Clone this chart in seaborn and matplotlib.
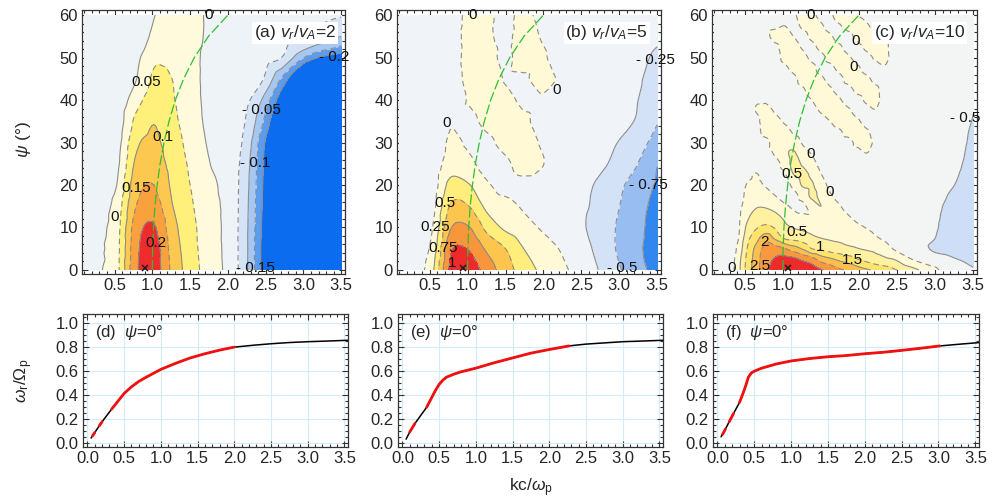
import numpy as np
import matplotlib
matplotlib.use("Agg")
import matplotlib.pyplot as plt
import matplotlib.tri as mtri
from matplotlib.ticker import MultipleLocator, FormatStrFormatter
import seaborn as sns

sns.set_theme(style="ticks")
plt.rcParams['font.family'] = ['Liberation Sans', 'DejaVu Sans']
plt.rcParams['mathtext.fontset'] = 'custom'
plt.rcParams['mathtext.rm'] = 'Liberation Sans'
plt.rcParams['mathtext.it'] = 'Liberation Sans:italic'
plt.rcParams['lines.dashed_pattern'] = [5, 3.5]

# ---- growth rate maps, gamma/Omega_p on (kc/omega_p, psi) grids ----
psi_grid = [0, 5, 10, 15, 20, 25, 30, 35, 40, 45, 50, 55, 60]
kc_grid = [0.1, 0.29, 0.53, 0.77, 1.02, 1.26, 1.5, 1.74, 1.98, 2.22, 2.47, 2.71, 2.95, 3.19, 3.5]

gamma_a = [
    [-0.02, -0.005, 0.035, 0.185, 0.225, 0.14, 0.075, 0.03, -0.01, -0.08, -0.22, -0.35, -0.45, -0.5, -0.5],
    [-0.02, -0.008, 0.033, 0.18, 0.222, 0.132, 0.07, 0.027, -0.012, -0.08, -0.22, -0.35, -0.45, -0.5, -0.5],
    [-0.02, -0.012, 0.03, 0.17, 0.205, 0.12, 0.066, 0.024, -0.012, -0.08, -0.215, -0.35, -0.45, -0.5, -0.5],
    [-0.025, -0.018, 0.02, 0.145, 0.175, 0.103, 0.058, 0.02, -0.013, -0.078, -0.21, -0.35, -0.45, -0.5, -0.5],
    [-0.03, -0.025, 0.0, 0.125, 0.15, 0.092, 0.05, 0.013, -0.015, -0.075, -0.205, -0.35, -0.45, -0.5, -0.5],
    [-0.035, -0.03, -0.012, 0.105, 0.128, 0.082, 0.043, 0.003, -0.02, -0.07, -0.2, -0.34, -0.45, -0.5, -0.5],
    [-0.035, -0.035, -0.02, 0.085, 0.11, 0.072, 0.035, -0.004, -0.022, -0.06, -0.19, -0.33, -0.45, -0.5, -0.5],
    [-0.035, -0.035, -0.03, 0.058, 0.098, 0.062, 0.028, -0.01, -0.025, -0.048, -0.15, -0.3, -0.44, -0.5, -0.5],
    [-0.035, -0.035, -0.035, 0.025, 0.075, 0.055, 0.022, -0.012, -0.025, -0.035, -0.11, -0.24, -0.4, -0.5, -0.5],
    [-0.035, -0.035, -0.035, -0.005, 0.058, 0.05, 0.018, -0.012, -0.02, -0.028, -0.05, -0.155, -0.3, -0.45, -0.5],
    [-0.035, -0.035, -0.035, -0.015, 0.04, 0.038, 0.015, -0.01, -0.018, -0.022, -0.03, -0.05, -0.13, -0.2, -0.24],
    [-0.035, -0.035, -0.035, -0.028, 0.008, 0.025, 0.015, -0.005, -0.015, -0.018, -0.022, -0.03, -0.042, -0.06, -0.1],
    [-0.035, -0.035, -0.035, -0.03, -0.002, 0.02, 0.012, -0.004, -0.012, -0.015, -0.018, -0.022, -0.028, -0.035, -0.045],
]

gamma_b = [
    [-0.03, -0.12, 0.18, 1.05, 1.15, 0.88, 0.62, 0.38, 0.2, 0.06, -0.08, -0.24, -0.44, -0.62, -0.85],
    [-0.05, -0.15, 0.07, 0.95, 0.98, 0.7, 0.5, 0.25, 0.1, -0.01, -0.14, -0.3, -0.5, -0.66, -0.9],
    [-0.06, -0.15, -0.02, 0.72, 0.76, 0.42, 0.2, 0.08, -0.02, -0.1, -0.2, -0.34, -0.5, -0.66, -0.85],
    [-0.07, -0.15, -0.1, 0.52, 0.5, 0.18, 0.06, -0.02, -0.08, -0.14, -0.2, -0.3, -0.46, -0.64, -0.82],
    [-0.08, -0.15, -0.15, 0.32, 0.26, 0.03, -0.06, -0.05, -0.08, -0.14, -0.2, -0.27, -0.42, -0.58, -0.78],
    [-0.08, -0.15, -0.17, 0.12, 0.06, -0.1, -0.04, 0.08, 0.01, -0.1, -0.16, -0.2, -0.3, -0.46, -0.74],
    [-0.08, -0.14, -0.16, 0.03, -0.03, -0.04, 0.06, 0.09, -0.02, -0.1, -0.14, -0.17, -0.24, -0.36, -0.6],
    [-0.08, -0.12, -0.12, -0.01, -0.04, 0.05, 0.1, 0.03, -0.06, -0.1, -0.12, -0.15, -0.2, -0.25, -0.48],
    [-0.08, -0.1, -0.1, -0.06, 0.01, 0.08, 0.05, -0.03, -0.02, -0.02, -0.1, -0.12, -0.16, -0.23, -0.35],
    [-0.08, -0.1, -0.1, -0.08, 0.04, 0.08, -0.01, -0.02, 0.06, -0.02, -0.08, -0.1, -0.14, -0.21, -0.32],
    [-0.08, -0.1, -0.1, -0.08, 0.05, 0.05, -0.03, 0.06, 0.02, -0.06, -0.08, -0.1, -0.13, -0.19, -0.28],
    [-0.08, -0.1, -0.1, -0.07, 0.04, 0.02, -0.03, 0.06, -0.01, -0.06, -0.08, -0.1, -0.12, -0.16, -0.22],
    [-0.08, -0.1, -0.1, -0.07, 0.03, 0.02, -0.03, 0.03, -0.04, -0.06, -0.08, -0.1, -0.11, -0.14, -0.18],
]

# panel (c) on a finer grid; each inner list is one kc column, psi = 0, 2.5, ..., 60
psi_grid_c = [0, 2.5, 5, 7.5, 10, 12.5, 15, 17.5, 20, 22.5, 25, 27.5, 30,
              32.5, 35, 37.5, 40, 42.5, 45, 47.5, 50, 52.5, 55, 57.5, 60]
kc_grid_c = [0.1, 0.29, 0.41, 0.53, 0.65, 0.77, 0.9, 1.02, 1.14, 1.26, 1.38, 1.5,
             1.62, 1.74, 1.86, 1.98, 2.1, 2.22, 2.34, 2.47, 2.71, 2.95, 3.19, 3.5]
gamma_c_cols = [
    [-0.15, -0.15, -0.15, -0.15, -0.15, -0.15, -0.15, -0.15, -0.15, -0.15, -0.15, -0.15, -0.15,
     -0.15, -0.15, -0.15, -0.15, -0.15, -0.15, -0.15, -0.15, -0.15, -0.15, -0.15, -0.15],
    [-0.3, -0.3, -0.3, -0.28, -0.25, -0.2, -0.2, -0.2, -0.2, -0.2, -0.2, -0.2, -0.2,
     -0.2, -0.2, -0.2, -0.2, -0.2, -0.2, -0.2, -0.2, -0.2, -0.2, -0.2, -0.2],
    [0.3, 0.25, 0.1, -0.05, -0.1, -0.12, -0.15, -0.2, -0.2, -0.2, -0.2, -0.2, -0.2,
     -0.2, -0.2, -0.2, -0.2, -0.2, -0.2, -0.2, -0.2, -0.2, -0.2, -0.2, -0.2],
    [1.2, 1.12, 1.0, 0.82, 0.6, 0.4, 0.22, 0.1, 0.02, -0.1, -0.2, -0.2, -0.2,
     -0.2, -0.2, -0.2, -0.2, -0.2, -0.2, -0.2, -0.2, -0.2, -0.2, -0.2, -0.2],
    [1.8, 1.75, 1.65, 1.3, 0.95, 0.7, 0.45, 0.25, 0.1, 0.02, -0.15, -0.2, -0.2,
     -0.2, -0.2, 0.02, -0.05, -0.2, -0.2, -0.2, -0.2, -0.2, -0.2, -0.2, -0.2],
    [2.35, 2.3, 2.15, 1.8, 1.1, 0.8, 0.45, 0.2, -0.03, -0.15, -0.2, -0.2, -0.19,
     0.2, 0.35, 0.25, -0.09, -0.2, -0.2, -0.2, -0.2, -0.2, -0.2, -0.2, -0.2],
    [2.85, 2.55, 2.2, 1.4, 0.95, 0.65, 0.3, 0.0, -0.15, -0.2, -0.2, 0.07, 0.29,
     0.35, 0.22, -0.07, -0.2, -0.2, -0.2, -0.2, -0.2, -0.14, 0.25, -0.14, -0.2],
    [3.1, 2.7, 2.05, 0.95, 0.65, 0.4, 0.08, -0.15, -0.15, -0.06, 0.2, 0.4, 0.33,
     0.2, -0.06, -0.2, -0.2, -0.2, -0.2, -0.12, 0.13, 0.29, 0.25, 0.0, -0.2],
    [3.15, 2.65, 1.75, 0.85, 0.48, 0.15, -0.05, -0.12, 0.1, 0.5, 0.62, 0.55, 0.3,
     -0.05, -0.2, -0.2, -0.2, -0.2, -0.15, 0.17, 0.3, 0.24, 0.0, -0.2, -0.1],
    [3.0, 2.4, 1.45, 0.75, 0.42, 0.08, -0.08, 0.15, 0.55, 0.62, 0.45, 0.2, -0.05,
     -0.2, -0.2, -0.2, -0.2, -0.07, 0.21, 0.3, 0.21, -0.07, -0.2, 0.11, 0.29],
    [2.85, 2.2, 1.0, 0.6, 0.35, 0.06, 0.2, 0.6, 0.55, 0.4, 0.2, -0.03, -0.2,
     -0.2, -0.2, -0.2, 0.0, 0.24, 0.3, 0.17, -0.15, -0.2, 0.15, 0.3, 0.15],
    [2.55, 1.8, 0.9, 0.5, 0.32, 0.42, 0.5, 0.35, 0.2, 0.02, -0.15, -0.2, -0.2,
     -0.2, -0.2, 0.06, 0.27, 0.29, 0.12, -0.2, -0.2, 0.2, 0.29, 0.08, -0.2],
    [2.35, 1.6, 0.78, 0.45, 0.3, 0.25, 0.18, 0.05, -0.1, -0.2, -0.2, -0.2, -0.2,
     -0.2, 0.0, 0.26, 0.28, 0.07, -0.2, -0.2, 0.2, 0.29, 0.08, -0.2, -0.1],
    [2.1, 1.4, 0.7, 0.42, 0.28, 0.16, 0.03, -0.1, -0.2, -0.2, -0.2, -0.2, -0.2,
     -0.08, 0.23, 0.29, 0.07, -0.2, -0.2, 0.2, 0.29, 0.08, -0.2, -0.05, 0.25],
    [1.9, 1.25, 0.6, 0.38, 0.2, 0.03, -0.12, -0.2, -0.2, -0.2, -0.2, -0.2, -0.2,
     0.2, 0.29, 0.08, -0.2, -0.2, 0.2, 0.29, 0.08, -0.2, -0.2, 0.24, 0.24],
    [1.75, 1.02, 0.52, 0.3, 0.08, -0.1, -0.2, -0.2, -0.2, -0.2, -0.2, -0.2, 0.16,
     0.3, 0.08, -0.2, -0.2, 0.2, 0.29, 0.08, -0.2, -0.2, 0.21, 0.28, 0.0],
    [1.57, 0.85, 0.45, 0.2, -0.02, -0.15, -0.2, -0.2, -0.2, -0.2, -0.2, 0.0, 0.2,
     0.07, -0.2, -0.2, 0.12, 0.25, 0.12, -0.2, -0.2, 0.16, 0.3, 0.08, -0.2],
    [1.4, 0.7, 0.38, 0.05, -0.12, -0.2, -0.2, -0.2, -0.2, -0.2, -0.2, -0.2, -0.12,
     -0.2, -0.2, -0.02, 0.14, 0.1, -0.15, -0.2, 0.08, 0.3, 0.16, -0.2, -0.2],
    [1.25, 0.6, 0.25, -0.08, -0.2, -0.22, -0.25, -0.25, -0.25, -0.25, -0.25, -0.25, -0.25,
     -0.25, -0.25, -0.22, -0.2, -0.2, -0.2, -0.05, 0.13, 0.11, -0.12, -0.2, -0.2],
    [1.05, 0.48, -0.05, -0.22, -0.28, -0.3, -0.3, -0.3, -0.3, -0.3, -0.3, -0.3, -0.3,
     -0.28, -0.27, -0.26, -0.25, -0.24, -0.23, -0.22, -0.22, -0.21, -0.2, -0.2, -0.2],
    [0.65, -0.02, -0.25, -0.33, -0.38, -0.38, -0.38, -0.37, -0.36, -0.35, -0.34, -0.34, -0.33,
     -0.32, -0.32, -0.31, -0.3, -0.29, -0.28, -0.27, -0.26, -0.25, -0.24, -0.22, -0.2],
    [0.2, -0.3, -0.52, -0.47, -0.45, -0.44, -0.43, -0.42, -0.41, -0.4, -0.4, -0.39, -0.38,
     -0.37, -0.36, -0.35, -0.33, -0.32, -0.3, -0.29, -0.28, -0.27, -0.25, -0.23, -0.22],
    [-0.3, -0.45, -0.58, -0.6, -0.58, -0.56, -0.54, -0.51, -0.48, -0.46, -0.44, -0.42, -0.4,
     -0.39, -0.38, -0.36, -0.35, -0.33, -0.32, -0.31, -0.3, -0.29, -0.28, -0.27, -0.25],
    [-0.48, -0.55, -0.6, -0.62, -0.62, -0.61, -0.6, -0.59, -0.58, -0.57, -0.56, -0.55, -0.54,
     -0.53, -0.51, -0.495, -0.47, -0.44, -0.41, -0.38, -0.36, -0.34, -0.32, -0.3, -0.28],
]

levels_a = [-0.2, -0.15, -0.1, -0.05, 0, 0.05, 0.1, 0.15, 0.2]
levels_b = [-0.75, -0.5, -0.25, 0, 0.25, 0.5, 0.75, 1.0]
levels_c = [-0.5, 0, 0.5, 1.0, 1.5, 2.0, 2.5]

# resonance curve (green dashed) and maximum growth point
res_psi = [0, 5, 10, 15, 20, 25, 30, 35, 40, 45, 50, 55, 60]
res_kc = [1.0, 1.004, 1.015, 1.035, 1.064, 1.103, 1.155, 1.221, 1.305, 1.414, 1.556, 1.743, 2.0]
kmax = [0.90, 0.94, 1.07]
vr_ratio = ["2", "5", "10"]

# ---- dispersion at psi = 0 ----
kc_d = [0.05, 0.07, 0.10, 0.16, 0.20, 0.33, 0.5, 0.6, 0.7, 0.8, 1.0, 1.2, 1.4, 1.6, 1.8, 2.0, 2.25, 2.5, 2.75, 3.0, 3.25, 3.6]
wr_d = [0.045, 0.063, 0.09, 0.145, 0.18, 0.285, 0.415, 0.47, 0.515, 0.55, 0.615, 0.665, 0.71, 0.745, 0.775, 0.80, 0.815, 0.828, 0.838, 0.845, 0.85, 0.858]
unstable_d = [(0.07, 0.10), (0.16, 0.20), (0.33, 2.0)]

kc_e = [0.05, 0.10, 0.17, 0.33, 0.45, 0.5, 0.55, 0.6, 0.7, 0.8, 1.0, 1.25, 1.5, 1.75, 2.0, 2.27, 2.5, 2.75, 3.0, 3.25, 3.6]
wr_e = [0.035, 0.095, 0.165, 0.30, 0.44, 0.49, 0.525, 0.55, 0.575, 0.595, 0.625, 0.67, 0.71, 0.75, 0.78, 0.81, 0.825, 0.835, 0.845, 0.85, 0.858]
unstable_e = [(0.10, 0.17), (0.33, 2.27)]

kc_f = [0.05, 0.07, 0.11, 0.16, 0.22, 0.30, 0.35, 0.39, 0.42, 0.46, 0.5, 0.6, 0.8, 1.0, 1.25, 1.5, 1.75, 2.0, 2.25, 2.5, 2.75, 3.02, 3.3, 3.6]
wr_f = [0.055, 0.075, 0.12, 0.18, 0.25, 0.34, 0.42, 0.49, 0.55, 0.585, 0.60, 0.625, 0.66, 0.685, 0.705, 0.72, 0.73, 0.745, 0.757, 0.773, 0.79, 0.81, 0.825, 0.84]
unstable_f = [(0.07, 0.11), (0.16, 0.22), (0.30, 3.02)]

# colours
colors_a = ['#0b6cef', '#5b9cee', '#a6c7f2', '#d5e3f7', '#eef3f8',
            '#fffadb', '#fff07c', '#fdc84f', '#f8a13d', '#ee2c2c']
colors_b = ['#3286ef', '#98bdf0', '#d3e2f7', '#f0f4f8',
            '#fff9d6', '#ffee7c', '#fcc54d', '#f8963b', '#ee2a2a']
colors_c = ['#cddef6', '#f2f5f3', '#fff9d8', '#fff1a0', '#ffe36a', '#fcbf4e', '#f8983f', '#ee2a2a']


def styles_for(levels):
    return ['solid' if i % 2 == 0 else 'dashed' for i in range(len(levels))]


def draw_map(ax, kc, psi, gamma, levels, colors):
    K, P = np.meshgrid(kc, psi)
    s = 17.0
    tri = mtri.Triangulation(K.ravel(), P.ravel() / s)
    z = np.asarray(gamma, dtype=float).ravel()
    interp = mtri.CubicTriInterpolator(tri, z, kind='geom')
    fine, zf = mtri.UniformTriRefiner(tri).refine_field(z, triinterpolator=interp, subdiv=3)
    fine = mtri.Triangulation(fine.x, fine.y * s, fine.triangles)
    ax.tricontourf(fine, zf, levels=[-50] + levels + [50], colors=colors)
    ax.tricontour(fine, zf, levels=levels, colors='#8c8c8c', linewidths=0.8,
                  linestyles=styles_for(levels))


def frame(ax):
    ax.tick_params(which='both', direction='in', top=True, right=True, labelsize=12,
                   color='#333333', width=0.8, pad=3)
    ax.tick_params(which='major', length=4)
    ax.tick_params(which='minor', length=2)
    for sp in ax.spines.values():
        sp.set_linewidth(0.9)
        sp.set_color('#333333')


fig = plt.figure(figsize=(9.99, 4.99), dpi=100)
top_rects = [[0.0821, 0.4509, 0.2633, 0.5291],
             [0.3974, 0.4509, 0.2643, 0.5291],
             [0.7127, 0.4509, 0.2653, 0.5291]]
bot_rects = [[0.0831, 0.1042, 0.2653, 0.2665],
             [0.3984, 0.1042, 0.2653, 0.2665],
             [0.7137, 0.1042, 0.2663, 0.2665]]

maps = [(kc_grid, psi_grid, gamma_a, levels_a, colors_a),
        (kc_grid, psi_grid, gamma_b, levels_b, colors_b),
        (kc_grid_c, psi_grid_c, np.array(gamma_c_cols).T, levels_c, colors_c)]
tags = ['(a)', '(b)', '(c)']
label_x = [0.966, 0.95, 0.955]

contour_labels = [
    [('0', 0.50, 12.5), ('0', 1.75, 60), ('0.05', 0.92, 44.3), ('0.1', 1.14, 31.4),
     ('0.15', 0.79, 19.2), ('0.2', 1.05, 6.3), ('- 0.05', 2.45, 37.6), ('- 0.1', 2.36, 25.1),
     ('- 0.15', 2.36, 0.5), ('- 0.2', 3.40, 50.2)],
    [('0', 1.07, 60), ('0', 2.175, 42.4), ('0', 0.726, 34.5), ('0.5', 0.707, 15.7),
     ('0.25', 0.572, 10.2), ('0.75', 0.678, 5.1), ('1', 0.794, 1.6), ('- 0.25', 3.47, 49.4),
     ('- 0.75', 3.38, 20), ('- 0.5', 3.04, 0.5)],
    [('0', 0.33, 0.5), ('2.5', 0.70, 0.9), ('2', 0.765, 6.6), ('1', 1.49, 5.3),
     ('1.5', 1.91, 2.4), ('0.5', 1.19, 9.0), ('0.5', 1.12, 22.7), ('0', 1.36, 27.4),
     ('0', 1.62, 18.4), ('0', 1.95, 54), ('0', 1.93, 47.8), ('0', 1.36, 60),
     ('- 0.5', 3.40, 35.7)],
]

for i in range(3):
    ax = fig.add_axes(top_rects[i])
    kc, psi, gamma, levels, colors = maps[i]
    draw_map(ax, kc, psi, gamma, levels, colors)
    ax.plot(res_kc, res_psi, color='#2fbf2f', lw=0.9, dashes=(8, 2.5))
    ax.plot([kmax[i]], [0.5], marker='x', color='k', ms=5, mew=1.1, ls='none')
    for txt, x, y in contour_labels[i]:
        ax.text(x, y, txt, fontsize=11, ha='center', va='center', color='#111111')
    ax.text(label_x[i], 0.913, tags[i] + ' $v_r/v_A$=' + vr_ratio[i], transform=ax.transAxes,
            fontsize=12.5, ha='right', va='center',
            bbox=dict(facecolor='white', edgecolor='none', pad=1.2))
    ax.set_xlim(0.07, 3.55)
    ax.set_ylim(-0.95, 61.2)
    ax.xaxis.set_major_locator(MultipleLocator(0.5))
    ax.xaxis.set_minor_locator(MultipleLocator(0.1))
    ax.yaxis.set_major_locator(MultipleLocator(10))
    ax.yaxis.set_minor_locator(MultipleLocator(2))
    frame(ax)
    if i == 0:
        ax.set_ylabel(r'$\psi$ (°)', fontsize=12.5)
        ax.yaxis.set_label_coords(-0.185, 0.51)

curves = [(kc_d, wr_d, unstable_d), (kc_e, wr_e, unstable_e), (kc_f, wr_f, unstable_f)]
btags = ['(d)', '(e)', '(f)']
for i in range(3):
    ax = fig.add_axes(bot_rects[i])
    kc, wr, unstable = curves[i]
    kc = np.asarray(kc)
    wr = np.asarray(wr)
    ax.grid(True, color='#d3ecfa', lw=0.8)
    ax.set_axisbelow(True)
    sns.lineplot(x=kc, y=wr, ax=ax, color='black', lw=1.1, estimator=None, sort=False)
    for lo, hi in unstable:
        m = (kc >= lo - 1e-9) & (kc <= hi + 1e-9)
        sns.lineplot(x=kc[m], y=wr[m], ax=ax, color='#f01010', lw=2.0, estimator=None, sort=False)
    ax.text(0.045, 0.86, btags[i] + r'  $\psi$=0°', transform=ax.transAxes, fontsize=12,
            ha='left', va='center')
    ax.set_xlim(-0.06, 3.55)
    ax.set_ylim(-0.03, 1.075)
    ax.xaxis.set_major_locator(MultipleLocator(0.5))
    ax.xaxis.set_minor_locator(MultipleLocator(0.1))
    ax.yaxis.set_major_locator(MultipleLocator(0.2))
    ax.yaxis.set_minor_locator(MultipleLocator(0.05))
    ax.xaxis.set_major_formatter(FormatStrFormatter('%.1f'))
    ax.yaxis.set_major_formatter(FormatStrFormatter('%.1f'))
    frame(ax)
    ax.set_xlabel('')
    ax.set_ylabel('')
    if i == 0:
        ax.set_ylabel(r'$\omega_\mathrm{r}/\Omega_\mathrm{p}$', fontsize=12.5)
        ax.yaxis.set_label_coords(-0.18, 0.5)
    if i == 1:
        ax.set_xlabel(r'kc/$\omega_\mathrm{p}$', fontsize=12.5)
        ax.xaxis.set_label_coords(0.5, -0.22)

fig.savefig('out.png', dpi=100, facecolor='white')
